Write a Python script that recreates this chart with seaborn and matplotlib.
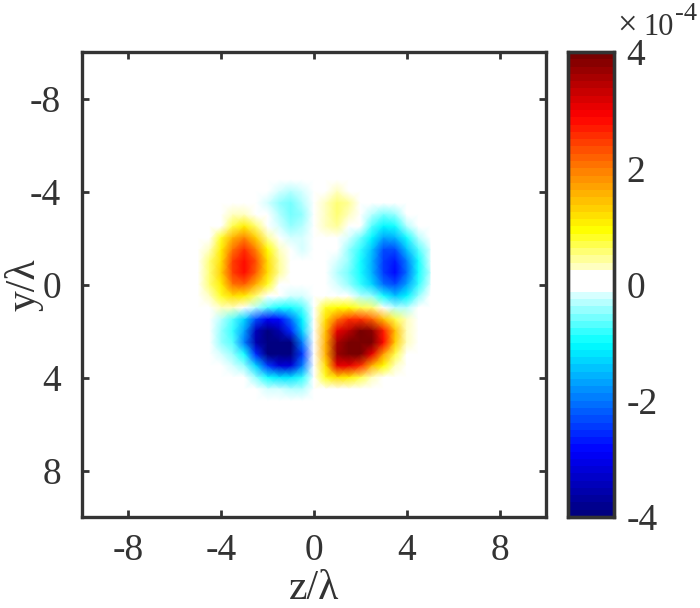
"""Field map of a six-lobe pattern, with white-centred jet colour bar."""
import matplotlib
matplotlib.use("Agg")
import matplotlib.pyplot as plt
import numpy as np
import pandas as pd
import seaborn as sns
from matplotlib.colors import LinearSegmentedColormap

# grid nodes in lambda, values in units of 1e-4
z_nodes = [-5, -4.5, -4, -3.5, -3, -2.5, -2, -1.5, -1, -0.5, 0, 0.5, 1, 1.5, 2, 2.5, 3, 3.5, 4, 4.5, 5]
y_nodes = [-5, -4.5, -4, -3.5, -3, -2.5, -2, -1.5, -1, -0.5, 0, 0.5, 1, 1.5, 2, 2.5, 3, 3.5, 4, 4.5, 5]
field = [
    [0, 0, 0, 0, 0, 0, 0, 0, 0, 0, 0, 0, 0, 0, 0, 0, 0, 0, 0, 0, 0],
    [0, 0, 0, 0, 0, 0, 0, -.05, -.1, -.05, 0, 0, .05, .05, 0, 0, 0, 0, 0, 0, 0],
    [0, 0, 0, 0, 0, 0, -.05, -.22, -.35, -.2, 0, .05, .25, .2, 0, 0, 0, 0, 0, 0, 0],
    [0, 0, 0, 0, 0, 0, -.2, -.4, -.55, -.35, -.05, .25, .5, .4, .1, 0, .1, .05, 0, 0, 0],
    [0, 0, 0, .25, .35, .2, -.12, -.35, -.6, -.4, -.05, .3, .55, .35, .05, -.3, -.6, -.4, -.1, 0, 0],
    [0, 0, .1, .7, 1.0, .6, .1, -.2, -.45, -.32, -.05, .25, .4, .2, -.1, -.7, -1.1, -.9, -.35, 0, 0],
    [0, .1, .8, 1.5, 1.9, 1.3, .45, -.05, -.25, -.25, -.02, .15, .2, -.2, -.6, -1.1, -1.7, -1.6, -.9, -.35, 0],
    [0, .3, 1.0, 2.0, 2.5, 1.9, .9, .3, -.1, -.16, 0, 0, -.1, -.4, -.8, -1.4, -2.3, -2.3, -1.5, -.65, -.15],
    [.05, .5, 1.2, 2.4, 2.8, 2.3, 1.2, .45, .1, 0, 0, 0, -.25, -.5, -1.0, -1.6, -2.5, -2.7, -2.0, -.9, -.25],
    [.05, .55, 1.3, 2.4, 2.8, 2.2, 1.2, .45, .05, 0, 0, 0, -.3, -.55, -1.0, -1.6, -2.5, -2.8, -2.1, -1.0, -.3],
    [0, .5, 1.1, 2.0, 2.2, 1.6, .75, .2, 0, 0, 0, 0, -.2, -.45, -.85, -1.3, -2.1, -2.3, -1.7, -.85, -.2],
    [0, .3, .75, 1.2, 1.0, .5, .1, 0, -.2, -.25, 0, .05, 0, -.1, -.3, -.5, -.95, -1.4, -1.1, -.5, -.1],
    [0, 0, .3, .35, .1, -.35, -.7, -1.0, -.9, -.7, 0, .8, .9, .9, .7, .5, .2, -.3, -.3, 0, 0],
    [0, 0, -.3, -.7, -1.3, -2.3, -2.9, -2.8, -2.1, -1.1, -.1, 1.2, 2.0, 2.5, 2.6, 2.2, 1.4, .7, .3, .1, 0],
    [0, -.1, -.5, -.85, -1.7, -3.5, -3.9, -3.6, -2.6, -1.3, 0, 1.4, 3.0, 3.4, 3.9, 3.8, 2.7, 1.4, .35, 0, 0],
    [0, -.1, -.4, -.75, -2.0, -3.6, -4.5, -4.7, -4.0, -1.9, -.1, 1.6, 3.5, 4.3, 4.6, 4.2, 2.8, 1.3, .35, 0, 0],
    [0, 0, -.15, -.45, -1.0, -2.6, -3.9, -4.6, -4.3, -2.4, -.1, 1.5, 3.7, 4.2, 3.9, 3.0, 1.7, .7, .1, 0, 0],
    [0, 0, 0, -.15, -.5, -1.3, -2.4, -3.2, -3.2, -1.9, -.1, 1.2, 3.0, 3.1, 2.5, 1.6, .9, .35, 0, 0, 0],
    [0, 0, 0, 0, -.1, -.4, -.9, -1.2, -1.2, -.85, -.05, .8, 1.2, 1.0, .7, .3, .1, 0, 0, 0, 0],
    [0, 0, 0, 0, 0, 0, -.15, -.25, -.35, -.3, 0, .2, .2, .1, 0, 0, 0, 0, 0, 0, 0],
    [0, 0, 0, 0, 0, 0, 0, 0, 0, 0, 0, 0, 0, 0, 0, 0, 0, 0, 0, 0, 0],
]
axis_ticks = [-8, -4, 0, 4, 8]
axis_labels = ["-8", "-4", "0", "4", "8"]
bar_ticks = [-4, -2, 0, 2, 4]
bar_labels = ["-4", "-2", "0", "2", "4"]

INK = "#333333"
W, H = 700, 608

sns.set_theme(style="white")
plt.rcParams["font.family"] = ["Liberation Serif", "DejaVu Serif"]

cmap = LinearSegmentedColormap.from_list(
    "white_jet",
    [
        ((-4.00 + 4) / 8, (0.00, 0.00, 0.50)),
        ((-2.90 + 4) / 8, (0.00, 0.00, 1.00)),
        ((-1.03 + 4) / 8, (0.00, 1.00, 1.00)),
        ((-0.15 + 4) / 8, (0.88, 1.00, 1.00)),
        ((-0.14 + 4) / 8, (1.00, 1.00, 1.00)),
        ((0.20 + 4) / 8, (1.00, 1.00, 1.00)),
        ((0.21 + 4) / 8, (1.00, 1.00, 0.88)),
        ((0.95 + 4) / 8, (1.00, 1.00, 0.00)),
        ((2.00 + 4) / 8, (1.00, 0.50, 0.00)),
        ((2.93 + 4) / 8, (1.00, 0.00, 0.00)),
        ((4.00 + 4) / 8, (0.47, 0.00, 0.00)),
    ],
    N=64,
)

fig = plt.figure(figsize=(W / 100, H / 100), dpi=100, facecolor="white")
ax = fig.add_axes([82 / W, 1 - 517 / H, (546 - 82) / W, (517 - 52) / H])
cax = fig.add_axes([568 / W, 1 - 517 / H, (614 - 568) / W, (517 - 52) / H])

df = pd.DataFrame(field, index=y_nodes, columns=z_nodes)
sns.heatmap(df, ax=ax, cbar_ax=cax, cmap=cmap, vmin=-4, vmax=4,
            xticklabels=False, yticklabels=False, shading="gouraud",
            cbar_kws={"ticks": bar_ticks})


def to_index(v):
    # node position on the heatmap's index scale
    return (np.asarray(v, dtype=float) - z_nodes[0]) / 0.5


ax.set_xlim(to_index(-10), to_index(10))
ax.set_ylim(to_index(10), to_index(-10))
ax.set_xticks(to_index(axis_ticks), axis_labels)
ax.set_yticks(to_index(axis_ticks), axis_labels)
ax.tick_params(direction="in", length=5, width=2, color=INK, labelcolor=INK,
               labelsize=27, top=True, right=True, bottom=True, left=True)
ax.tick_params(axis="x", pad=12)
ax.tick_params(axis="y", pad=15)
ax.set_xlabel("z/λ", fontsize=30, color=INK, labelpad=1)
ax.set_ylabel("y/λ", fontsize=30, color=INK)
ax.yaxis.set_label_coords(-0.082, 0.5)
for spine in ax.spines.values():
    spine.set_visible(True)
    spine.set_color(INK)
    spine.set_linewidth(2.4)

cax.tick_params(direction="in", length=5, width=2, color=INK, labelcolor=INK,
                labelsize=27, right=True, left=False, pad=9)
cax.set_yticks(bar_ticks, bar_labels)
for spine in cax.spines.values():
    spine.set_visible(True)
    spine.set_color(INK)
    spine.set_linewidth(2.4)

fig.text(617 / W, 1 - 35 / H, "×", fontsize=25, color=INK, ha="left", va="baseline")
fig.text(643 / W, 1 - 35 / H, "10", fontsize=22, color=INK, ha="left", va="baseline")
fig.text(675 / W, 1 - 20 / H, "-4", fontsize=19, color=INK, ha="left", va="baseline")

fig.savefig("out.png", dpi=100)
